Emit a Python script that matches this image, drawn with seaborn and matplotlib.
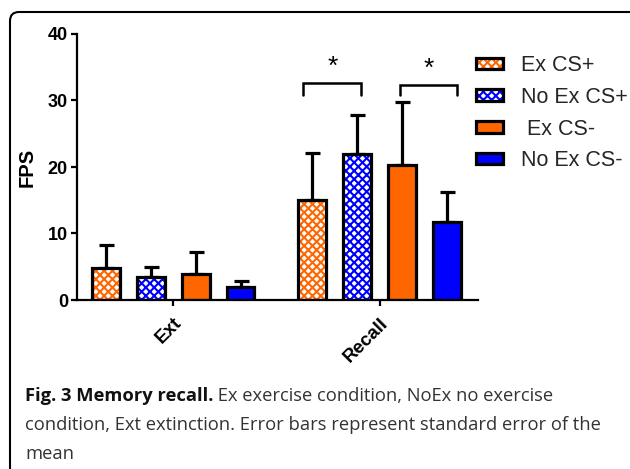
import matplotlib
matplotlib.use("Agg")
import numpy as np
import pandas as pd
import matplotlib.pyplot as plt
import seaborn as sns
from matplotlib.container import BarContainer
from matplotlib.patches import Patch, Rectangle, FancyBboxPatch
from matplotlib.legend_handler import HandlerTuple

# values
phases = ["Ext", "Recall"]
groups = ["Ex CS+", "No Ex CS+", " Ex CS-", "No Ex CS-"]
ext_mean = [4.8, 3.5, 3.9, 2.0]
recall_mean = [15.0, 22.0, 20.3, 11.8]
ext_sem = [3.5, 1.5, 3.3, 0.8]
recall_sem = [7.1, 5.8, 9.5, 4.4]
group_colors = ["#FF6600", "#0000FF", "#FF6600", "#0000FF"]
group_hatched = [True, True, False, False]

# significance brackets in the Recall group: (bar a, bar b, top, leg bottom)
sig_pairs = [(0, 1), (2, 3)]
sig_tops = [32.7, 32.3]
sig_legs = [30.8, 30.8]
sig_labels = ["*", "*"]

caption_bold = "Fig. 3 Memory recall."
caption_lines = [
    " Ex exercise condition, NoEx no exercise",
    "condition, Ext extinction. Error bars represent standard error of the",
    "mean",
]

HATCH = "xxxx"
EDGE_LW = 2.3
CAP_FS = 13.2

sns.set_theme(style="ticks")
plt.rcParams["font.family"] = ["Liberation Sans", "DejaVu Sans"]
plt.rcParams["hatch.linewidth"] = 1.5
plt.rcParams["axes.labelcolor"] = "black"

df = pd.DataFrame({
    "phase": np.repeat(phases, len(groups)),
    "group": groups * len(phases),
    "fps": ext_mean + recall_mean,
})
sems = {"Ext": ext_sem, "Recall": recall_sem}

fig = plt.figure(figsize=(6.3, 4.69), dpi=100)
ax = fig.add_axes([77 / 630, 1 - 300 / 469, (478 - 77) / 630, (300 - 34) / 469])

sns.barplot(
    data=df, x="phase", y="fps", hue="group",
    order=phases, hue_order=groups, palette=group_colors,
    saturation=1, width=0.87, gap=0.38, errorbar=None,
    legend=False, ax=ax,
)

bar_sets = [c for c in ax.containers if isinstance(c, BarContainer)]
centers = {}
for gi, cont in enumerate(bar_sets):
    for pi, bar in enumerate(cont):
        x0, w, h = bar.get_x(), bar.get_width(), bar.get_height()
        centers[(phases[pi], gi)] = x0 + w / 2
        if group_hatched[gi]:
            bar.set_facecolor("white")
            bar.set_edgecolor(group_colors[gi])
            bar.set_hatch(HATCH)
            bar.set_linewidth(0)
            ax.add_patch(Rectangle((x0, 0), w, h, fill=False, edgecolor="black",
                                   lw=EDGE_LW, zorder=bar.get_zorder() + 0.2))
        else:
            bar.set_edgecolor("black")
            bar.set_linewidth(EDGE_LW)
        ax.errorbar(x0 + w / 2, h, yerr=[[0], [sems[phases[pi]][gi]]],
                    fmt="none", ecolor="black", elinewidth=EDGE_LW,
                    capsize=5.4, capthick=EDGE_LW, zorder=bar.get_zorder() - 0.1)

# brackets with stars
for (a, b), top, leg, lab, off in zip(sig_pairs, sig_tops, sig_legs, sig_labels,
                                       [(-0.045, 0.02), (-0.01, 0.045)]):
    xa = centers[("Recall", a)] + off[0]
    xb = centers[("Recall", b)] + off[1]
    ax.plot([xa, xa, xb, xb], [leg, top, top, leg], color="black", lw=1.8,
            solid_joinstyle="miter", clip_on=False)
    ax.text((xa + xb) / 2, top + 0.6, lab, ha="center", va="bottom",
            fontsize=19, color="black")

ax.set_xlim(-0.465, 1.475)
ax.set_ylim(0, 40)
ax.set_yticks([0, 10, 20, 30, 40])
ax.set_xlabel("")
ax.set_ylabel("FPS", fontsize=14.5, fontweight="bold", labelpad=8, color="black")
sns.despine(ax=ax)
for side in ["left", "bottom"]:
    ax.spines[side].set_linewidth(1.6)
    ax.spines[side].set_color("black")
ax.tick_params(axis="both", colors="black", width=1.6, length=4.5, pad=2)
ax.tick_params(axis="x", pad=6)
for t in ax.get_yticklabels():
    t.set_fontsize(13)
    t.set_fontweight("bold")
ax.set_xticks(range(len(phases)))
ax.set_xticklabels(phases, rotation=45, ha="right", rotation_mode="anchor",
                   fontsize=13.5, fontweight="bold")

# legend
handles = []
for c, hatched in zip(group_colors, group_hatched):
    if hatched:
        handles.append((Patch(facecolor="white", edgecolor=c, hatch=HATCH, lw=0),
                        Patch(fill=False, edgecolor="black", lw=EDGE_LW)))
    else:
        handles.append(Patch(facecolor=c, edgecolor="black", lw=EDGE_LW))
fig.legend(handles, groups, loc="upper left",
           bbox_to_anchor=(476 / 630, 1 - 55 / 469), frameon=False,
           fontsize=15.5, handlelength=1.25, handleheight=0.45,
           handletextpad=0.85, labelspacing=0.5, borderpad=0, borderaxespad=0,
           handler_map={tuple: HandlerTuple(ndivide=1, pad=0)})

# rounded frame around the figure
frame = FancyBboxPatch((0.1, -0.5), 7.0, 4.69 - 0.12 + 0.5,
                       boxstyle="round,pad=0,rounding_size=0.09",
                       transform=fig.dpi_scale_trans, fill=False,
                       edgecolor="black", lw=1.5, clip_on=False)
fig.patches.append(frame)

# caption
cap_font = ["Open Sans", "DejaVu Sans"]
baselines = [401, 430, 459]
bold = fig.text(25 / 630, 1 - baselines[0] / 469, caption_bold, family=cap_font,
                fontsize=CAP_FS, fontweight="bold", color="#111111", va="baseline")
fig.canvas.draw()
bb = bold.get_window_extent()
fig.text(bb.x1 / fig.bbox.width, 1 - baselines[0] / 469, caption_lines[0],
         family=cap_font, fontsize=CAP_FS, color="#333333", va="baseline")
for line, yb in zip(caption_lines[1:], baselines[1:]):
    fig.text(25 / 630, 1 - yb / 469, line, family=cap_font, fontsize=CAP_FS,
             color="#333333", va="baseline")

fig.savefig("out.png", dpi=100)
